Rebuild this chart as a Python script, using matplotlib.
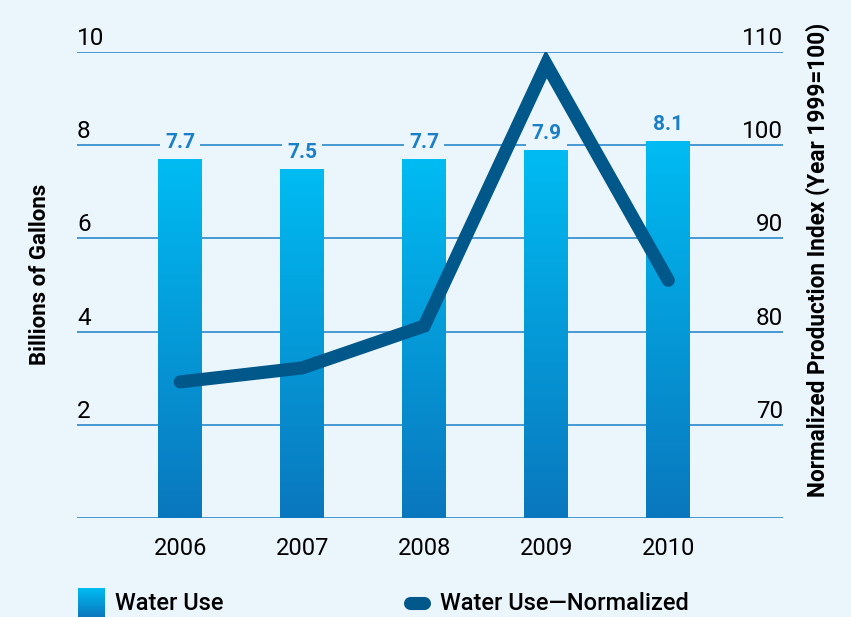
import matplotlib
matplotlib.use("Agg")
import matplotlib.pyplot as plt
import numpy as np
from matplotlib.colors import LinearSegmentedColormap
from matplotlib.lines import Line2D
import matplotlib.transforms as mtransforms

# data
years = ["2006", "2007", "2008", "2009", "2010"]
water_use = [7.7, 7.5, 7.7, 7.9, 8.1]
normalized = [74.6, 76.1, 80.6, 108.7, 85.5]
left_ticks = [2, 4, 6, 8, 10]
right_ticks = [70, 80, 90, 100, 110]

bg = "#ebf5fc"
grid_c = "#1a7fc8"
line_c = "#00578a"
lab_c = "#1b7fc7"
bar_cmap = LinearSegmentedColormap.from_list("wb", ["#0a77be", "#00bcf2"])

plt.rcParams['font.family'] = ['Roboto', 'DejaVu Sans']

fig = plt.figure(figsize=(8.51, 6.17), dpi=100, facecolor=bg)
ax = fig.add_axes([77/851, 1-518/617, 706/851, 466/617])
ax.set_facecolor(bg)
for s in ax.spines.values():
    s.set_visible(False)

x = np.arange(len(years))
xlim = (-0.845, 4.94)
ylim = (0, 10)

# grid lines
for v in [0] + left_ticks:
    ax.axhline(v, color=grid_c, lw=1.1, zorder=1)

# gradient bars
bars = ax.bar(x, water_use, width=0.36, color="none", zorder=2)
grad = np.linspace(1, 0, 256).reshape(-1, 1)
for b in bars:
    x0, w, h = b.get_x(), b.get_width(), b.get_height()
    im = ax.imshow(grad, extent=[x0, x0 + w, 0, h], aspect="auto",
                   cmap=bar_cmap, origin="upper", zorder=2)
    im.set_clip_path(b)

# value labels
for xi, v in zip(x, water_use):
    ax.annotate(f"{v}", (xi, v), xytext=(0, 5), textcoords="offset points",
                ha="center", va="bottom", fontsize=15, fontweight="bold",
                color=lab_c, zorder=3,
                bbox=dict(boxstyle="square,pad=0.25", fc=bg, ec="none"))

ax.set_xlim(*xlim)
ax.set_ylim(*ylim)
ax.set_xticks(x)
ax.set_xticklabels(years, fontsize=17)
ax.tick_params(axis="x", length=0, pad=14)
ax.set_yticks([])

# tick labels sitting above the grid lines
up = mtransforms.ScaledTranslation(0, 5/72, fig.dpi_scale_trans)
for v in left_ticks:
    ax.text(0, v, str(v), transform=ax.get_yaxis_transform() + up,
            ha="left", va="baseline", fontsize=17.5)

ax2 = ax.twinx()
for s in ax2.spines.values():
    s.set_visible(False)
ax2.set_ylim(60, 110)
ax2.set_yticks([])
ax2.plot(x, normalized, color=line_c, lw=9.4, solid_joinstyle="miter",
         solid_capstyle="round", zorder=5)
for v in right_ticks:
    ax2.text(1, v, str(v), transform=ax2.get_yaxis_transform() + up,
             ha="right", va="baseline", fontsize=17.5)

fig.text(40/851, 1-274/617, "Billions of Gallons", rotation=90,
         ha="center", va="center", fontsize=16, fontweight="bold")
fig.text(818/851, 1-260/617, "Normalized Production Index (Year 1999=100)",
         rotation=90, ha="center", va="center", fontsize=16.3, fontweight="bold")

# legend
lax = fig.add_axes([78/851, 0, 27/851, 29/617])
lax.imshow(grad, aspect="auto", cmap=bar_cmap, origin="upper")
lax.axis("off")
fig.text(115/851, 1-603/617, "Water Use", ha="left", va="center",
         fontsize=17, fontweight="medium")
fig.add_artist(Line2D([409.5/851, 423.5/851], [1-603/617, 1-603/617],
                      transform=fig.transFigure, color=line_c, lw=9.4,
                      solid_capstyle="round"))
fig.text(440/851, 1-603/617, "Water Use\u2014Normalized", ha="left",
         va="center", fontsize=17, fontweight="medium")

fig.savefig("out.png", dpi=100, facecolor=bg)
